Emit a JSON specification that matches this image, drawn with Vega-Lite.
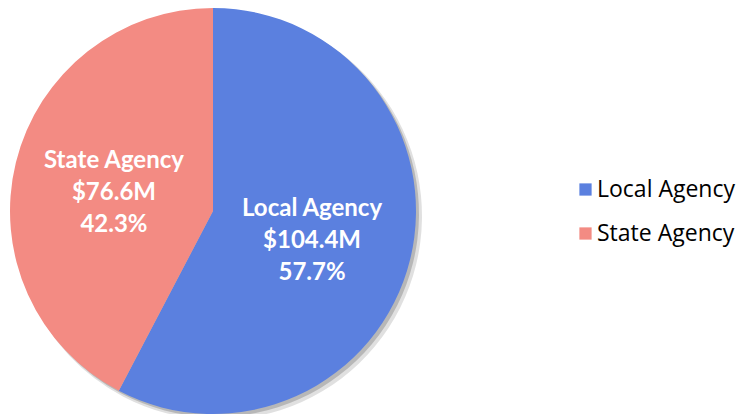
{
  "$schema": "https://vega.github.io/schema/vega-lite/v6.json",
  "width": 426,
  "height": 414,
  "autosize": {"type": "none"},
  "padding": {"left": 0, "top": 4, "right": 313, "bottom": 0},
  "background": "white",
  "data": {"values": [
    {"agency": "Local Agency", "amount": 104.4, "amountLabel": "$104.4M", "pct": "57.7%", "order": 1},
    {"agency": "State Agency", "amount": 76.6, "amountLabel": "$76.6M", "pct": "42.3%", "order": 2}
  ]},
  "encoding": {
    "theta": {"field": "amount", "type": "quantitative", "stack": true},
    "order": {"field": "order", "type": "quantitative"}
  },
  "layer": [
    {"mark": {"type": "arc", "radius": 204, "xOffset": 5, "yOffset": 5, "color": "#000000", "opacity": 0.12}},
    {"mark": {"type": "arc", "radius": 203, "xOffset": 3, "yOffset": 3, "color": "#000000", "opacity": 0.18}},
    {
      "mark": {"type": "arc", "radius": 203},
      "encoding": {
        "color": {
          "field": "agency", "type": "nominal",
          "scale": {"domain": ["Local Agency", "State Agency"], "range": ["#5B80DF", "#F38B83"]},
          "legend": {
            "title": null, "orient": "none", "legendX": 574, "legendY": 174,
            "symbolType": "square", "symbolSize": 150, "symbolStrokeWidth": 0,
            "labelFont": "Open Sans", "labelFontSize": 23, "labelColor": "#000000",
            "labelLimit": 300, "rowPadding": 20, "labelOffset": 0
          }
        }
      }
    },
    {
      "transform": [{"calculate": "[datum.agency, datum.amountLabel, datum.pct]", "as": "lbl"}],
      "mark": {"type": "text", "radius": 102, "dy": -26, "font": "Lato", "fontWeight": "bold", "fontSize": 24, "color": "white", "lineHeight": 32, "baseline": "middle", "align": "center"},
      "encoding": {"text": {"field": "lbl"}}
    }
  ]
}
